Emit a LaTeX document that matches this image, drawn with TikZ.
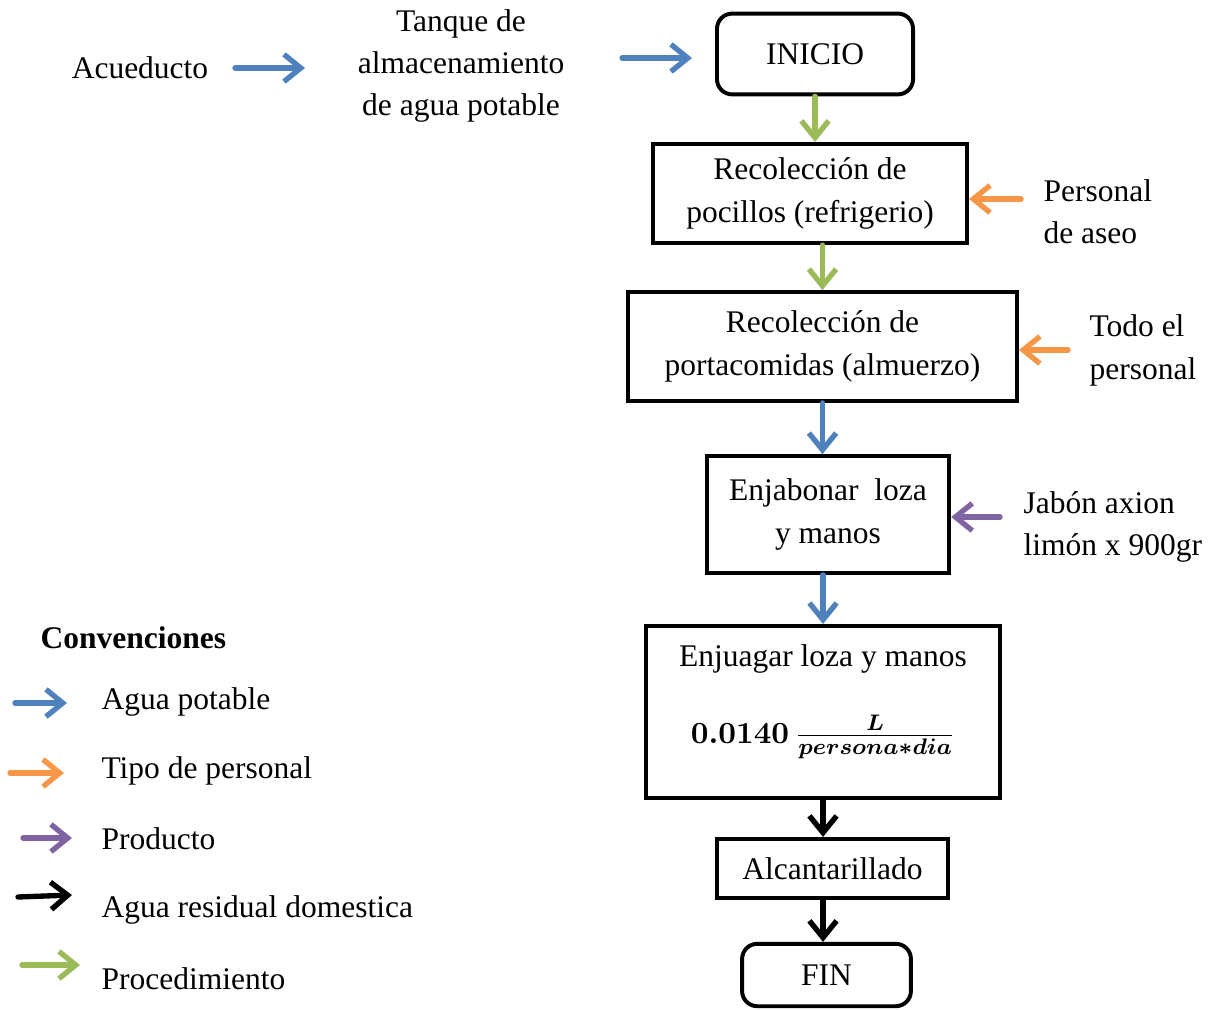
\documentclass[tikz,border=0pt]{standalone}
\usepackage{fontspec}
\setmainfont{Liberation Serif}
\usetikzlibrary{arrows.meta,shapes}
\definecolor{azul}{HTML}{4F81BD}
\definecolor{naranja}{HTML}{F79646}
\definecolor{morado}{HTML}{8064A2}
\definecolor{verde}{HTML}{9BBB59}
\tikzset{
  proc/.style = {align=center, inner sep=0pt, text centered, draw=black, line width=1.4pt},
  proc_n/.style = {proc, rectangle},
  proc_r/.style = {proc, rectangle, rounded corners=0.19cm},
  txt_c/.style = {align=center, inner sep=0pt},
  txt_l/.style = {align=left, inner sep=0pt, anchor=west},
  flecha/.style = {line width=1.9pt, line cap=round, -{Straight Barb[length=2.1mm,width=3.4mm]}},
  fl_a/.style = {flecha, draw=azul},
  fl_n/.style = {flecha, draw=naranja},
  fl_m/.style = {flecha, draw=morado},
  fl_k/.style = {flecha, draw=black},
  fl_v/.style = {flecha, draw=verde}
}

\begin{document}
\begin{tikzpicture}[x=0.0125cm, y=-0.0125cm, font=\fontsize{11.2pt}{15.1pt}\selectfont]
\useasboundingbox (0,0) rectangle (1211,1010);

% proceso
\node [proc_r, minimum width=2.45cm, minimum height=1.01cm] (inicio) at (815,54) {INICIO};
\node [proc_n, minimum width=3.925cm, minimum height=1.24cm] (rec1) at (810,193.5) {Recolección de\\pocillos (refrigerio)};
\node [proc_n, minimum width=4.86cm, minimum height=1.36cm] (rec2) at (822.5,346.5) {Recolección de\\portacomidas (almuerzo)};
\node [proc_n, minimum width=3.03cm, minimum height=1.46cm] (enjab) at (828,514.5) {Enjabonar\ \ loza\\y manos};
\node [proc_n, minimum width=4.43cm, minimum height=2.15cm] (enjua) at (823,712) {};
\node [txt_c] (enjua_t) at (823,702) {Enjuagar loza y manos\\[4.3mm]{\boldmath$0.0140\,\frac{L}{persona*dia}$}};
\node [proc_n, minimum width=2.89cm, minimum height=0.74cm] (alcan) at (832.5,868.5) {Alcantarillado};
\node [proc_r, minimum width=2.11cm, minimum height=0.78cm] (fin) at (826.5,975) {FIN};

% entradas
\node [txt_c] (acue) at (140,68) {Acueducto};
\node [txt_c] (tanque) at (461,66) {Tanque de\\almacenamiento\\de agua potable};
\node [txt_l] (pers1) at (1043,211.5) {Personal\\de aseo};
\node [txt_l] (pers2) at (1089,350.5) {Todo el\\personal};
\node [txt_l] (jabon) at (1023,527) {Jabón axion\\limón x 900gr};

\coordinate (ac_s) at (235,68);
\coordinate (ac_e) at (305,68);
\coordinate (tq_s) at (622,58);
\coordinate (tq_e) at (692,58);
\coordinate (p1_s) at (1021,199);
\coordinate (p2_s) at (1068,350);
\coordinate (jb_s) at (1000,517);

\draw [fl_a] (ac_s) -- (ac_e);
\draw [fl_a] (tq_s) -- (tq_e);
\draw [fl_v] (inicio.south) -- (inicio.south |- rec1.north);
\draw [fl_v] (rec2.north |- rec1.south) -- (rec2.north);
\draw [fl_a] (rec2.south) -- (rec2.south |- enjab.north);
\draw [fl_a] (enjua.north |- enjab.south) -- (enjua.north);
\draw [fl_k] (enjua.south) -- (enjua.south |- alcan.north);
\draw [fl_k] (enjua.south |- alcan.south) -- (enjua.south |- fin.north);
\draw [fl_n] (p1_s) -- (rec1.east |- p1_s);
\draw [fl_n] (p2_s) -- (rec2.east |- p2_s);
\draw [fl_m] (jb_s) -- (enjab.east |- jb_s);

% convenciones
\node [txt_l, font=\fontsize{11.2pt}{15.1pt}\selectfont\bfseries] (conv) at (40,638) {Convenciones};
\node [txt_l] (l_agua) at (101,702) {Agua potable};
\node [txt_l] (l_pers) at (101,771) {Tipo de personal};
\node [txt_l] (l_prod) at (101,839) {Producto};
\node [txt_l] (l_resid) at (101,910) {Agua residual domestica};
\node [txt_l] (l_proc) at (101,979) {Procedimiento};

\coordinate (c1_s) at (15,703);  \coordinate (c1_e) at (67,703);
\coordinate (c2_s) at (10,773);  \coordinate (c2_e) at (64,773);
\coordinate (c3_s) at (23,838);  \coordinate (c3_e) at (72,838);
\coordinate (c4_s) at (18,897);  \coordinate (c4_e) at (72,895);
\coordinate (c5_s) at (22,965);  \coordinate (c5_e) at (80,965);
\draw [fl_a] (c1_s) -- (c1_e);
\draw [fl_n] (c2_s) -- (c2_e);
\draw [fl_m] (c3_s) -- (c3_e);
\draw [fl_k] (c4_s) -- (c4_e);
\draw [fl_v] (c5_s) -- (c5_e);
\end{tikzpicture}
\end{document}
